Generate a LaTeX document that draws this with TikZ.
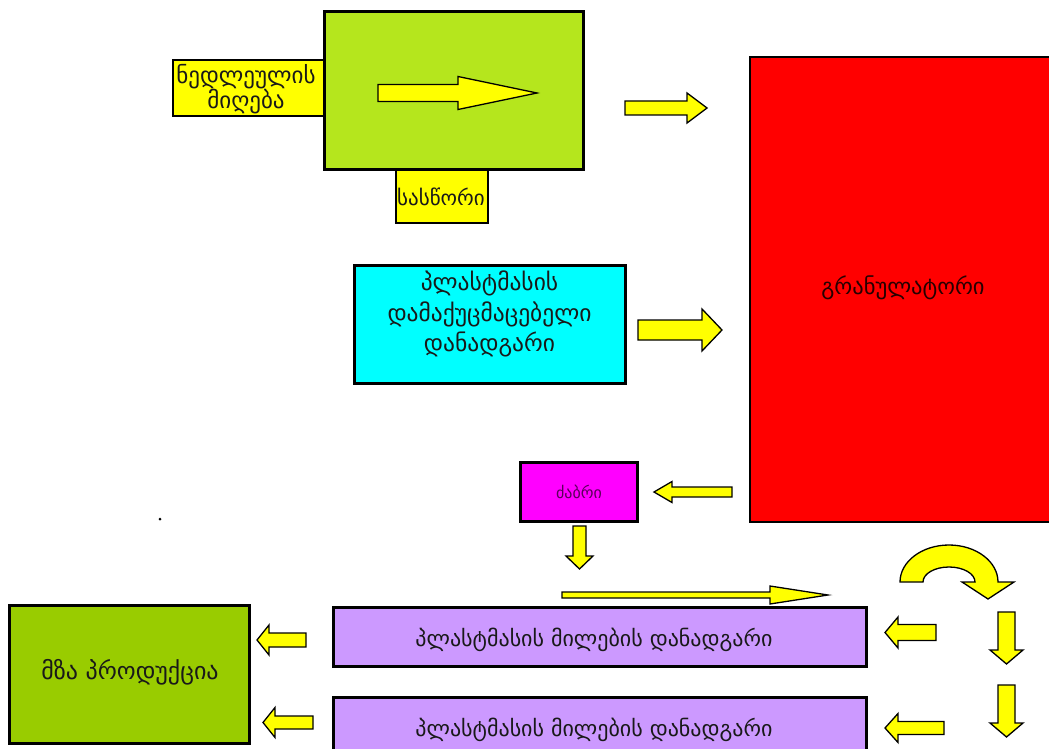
\documentclass[tikz,border=0pt]{standalone}
\usepackage{fontspec}
\newfontfamily\geo{DejaVu Sans}
\definecolor{lgreen}{HTML}{B5E61D}
\definecolor{dgreen}{HTML}{99CC00}
\definecolor{ayellow}{HTML}{FFFF00}
\definecolor{acyan}{HTML}{00FFFF}
\definecolor{ared}{HTML}{FF0000}
\definecolor{amag}{HTML}{FF00FF}
\definecolor{apurp}{HTML}{CC99FF}
\tikzset{
  box/.style={draw=black, line width=3pt, inner sep=0pt},
  thinbox/.style={draw=black, line width=1.5pt, inner sep=0pt},
  lbl/.style={font=\geo\fontsize{22}{24}\selectfont, text=black!90, align=center},
  barrow/.style={draw=black, line width=1.3pt, fill=ayellow, line join=miter},
}
\newcommand\ArrH[6]{\draw[barrow] (#1,{#4-#5}) -- (#2,{#4-#5}) -- (#2,{#4-#6}) -- (#3,#4) -- (#2,{#4+#6}) -- (#2,{#4+#5}) -- (#1,{#4+#5}) -- cycle;}
\newcommand\ArrV[6]{\draw[barrow] ({#4-#5},#1) -- ({#4-#5},#2) -- ({#4-#6},#2) -- (#4,#3) -- ({#4+#6},#2) -- ({#4+#5},#2) -- ({#4+#5},#1) -- cycle;}
\begin{document}
\begin{tikzpicture}[x=1pt,y=-1pt]
\useasboundingbox (0,0) rectangle (1049,749);
\clip (0,0) rectangle (1049,749);
\fill[white] (0,0) rectangle (1049,749);
% yellow side boxes
\node[thinbox, fill=ayellow, minimum width=151pt, minimum height=56pt] (raw) at (248.5,88) {};
\node[lbl, font=\geo\fontsize{23}{23}\selectfont] (rawt) at (246,89) {ნედლეულის\\მიღება};
\node[thinbox, fill=ayellow, minimum width=92pt, minimum height=54pt] (scale) at (442,196) {};
\node[lbl, font=\geo\fontsize{21}{22}\selectfont] (scalet) at (441,197) {სასწორი};
% top green box
\node[box, fill=lgreen, minimum width=259pt, minimum height=157pt] (top) at (453.5,90.5) {};
\ArrH{378}{458}{537}{93}{8.5}{16.5}
% cyan box
\node[box, fill=acyan, minimum width=271pt, minimum height=118pt] (crush) at (489.5,324) {};
\node[lbl, font=\geo\fontsize{23.5}{25}\selectfont] (crusht) at (489.5,314) {პლასტმასის\\[4pt]დამაქუცმაცებელი\\[4pt]დანადგარი};
% red box
\node[box, line width=2.5pt, fill=ared, minimum width=310pt, minimum height=465pt] (gran) at (905,289.5) {};
\node[lbl, text=black!85!red, font=\geo\fontsize{22.5}{24}\selectfont] (grant) at (903,288) {გრანულატორი};
% magenta box
\node[box, fill=amag, minimum width=117pt, minimum height=59pt] (funnel) at (578.5,491.5) {};
\node[lbl, text=violet!70!black, font=\geo\fontsize{16}{18}\selectfont] (funnelt) at (579,492) {ძაბრი};
% purple boxes
\node[box, fill=apurp, minimum width=533pt, minimum height=59pt] (pipe1) at (599.5,636.5) {};
\node[lbl] (pipe1t) at (594,640) {პლასტმასის მილების დანადგარი};
\node[box, fill=apurp, minimum width=533pt, minimum height=63pt] (pipe2) at (599.5,728.5) {};
\node[lbl] (pipe2t) at (594,730) {პლასტმასის მილების დანადგარი};
% finished product
\node[box, fill=dgreen, minimum width=240pt, minimum height=138pt] (prod) at (129,674) {};
\node[lbl, font=\geo\fontsize{24}{26}\selectfont] (prodt) at (130,672) {მზა პროდუქცია};
% arrows
\ArrH{625}{687}{707}{108}{7}{15}
\ArrH{638}{702}{722}{330}{10}{21}
\ArrH{732}{672}{654}{492}{5}{10.5}
\ArrV{526}{556}{569}{579.5}{6.5}{13.5}
\ArrH{562}{770}{828}{595}{3}{9}
\ArrV{612}{650}{664}{1006.5}{8.5}{16.5}
\ArrV{685}{723}{737}{1006.5}{8.5}{16.5}
\ArrH{936}{898}{885}{632.5}{8}{15.5}
\ArrH{944}{898}{885}{728}{6.5}{14.5}
\ArrH{306}{269}{257}{640}{7}{15}
\ArrH{313}{275}{263}{722.5}{6.5}{15}
% curved arrow
\draw[barrow] (900,582) .. controls (900,561.6) and (921.9,545) .. (949,545)
  .. controls (976.1,545) and (998,561.6) .. (998,582)
  -- (1014,582) -- (988,599) -- (962,582) -- (975,582)
  .. controls (975,573.7) and (963.4,567) .. (949,567)
  .. controls (934.6,567) and (923,573.7) .. (923,582) -- cycle;
% stray dot
\fill[black] (160,519) circle (1.5pt);
\end{tikzpicture}
\end{document}
